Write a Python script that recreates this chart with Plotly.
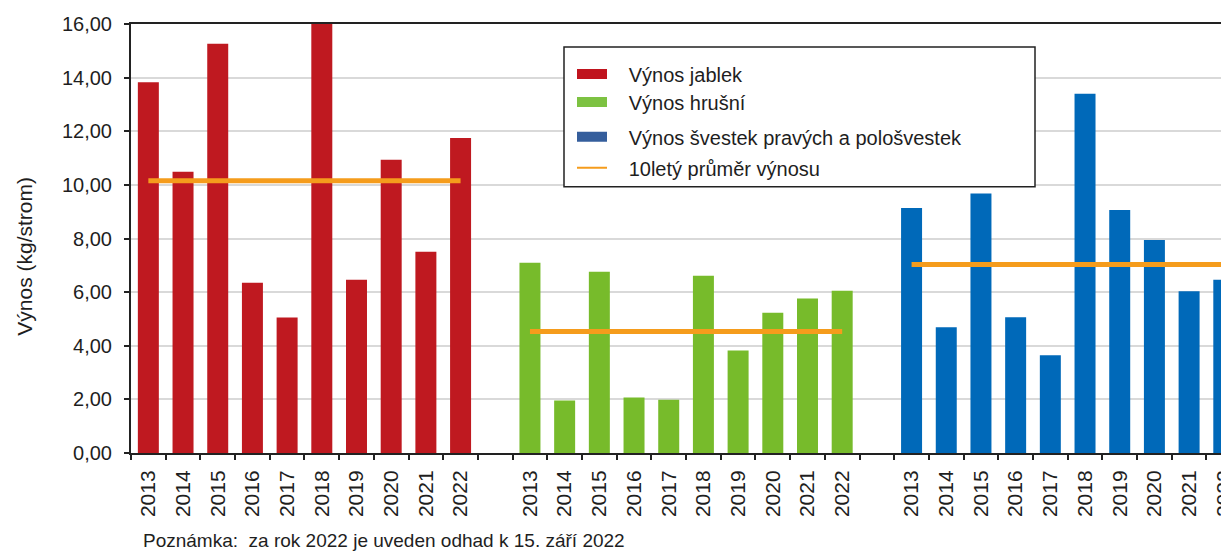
import plotly.graph_objects as go

years = ["2013", "2014", "2015", "2016", "2017", "2018", "2019", "2020", "2021", "2022"]
jablka = [13.83, 10.49, 15.26, 6.35, 5.05, 16.00, 6.46, 10.94, 7.51, 11.75]
hruse = [7.10, 1.96, 6.76, 2.07, 1.99, 6.61, 3.82, 5.23, 5.76, 6.05]
svestky = [9.14, 4.69, 9.68, 5.06, 3.65, 13.40, 9.06, 7.94, 6.03, 6.46]
prumer = [10.15, 4.53, 7.03]

names = ["Výnos jablek", "Výnos hrušní", "Výnos švestek pravých a pološvestek", "10letý průměr výnosu"]
bar_colors = ["#BF1920", "#77BB2B", "#0069B9"]
legend_colors = ["#C0141E", "#7DC242", "#355E9C"]
line_color = "#F59C1C"
note = "Poznámka:  za rok 2022 je uveden odhad k 15. září 2022"

groups = [("j", jablka), ("h", hruse), ("s", svestky)]
cat_ids, cat_text = [], []
for gi, (key, _) in enumerate(groups):
    for y in years:
        cat_ids.append(key + y)
        cat_text.append(y)
    if gi < len(groups) - 1:
        cat_ids.append("gap" + str(gi))
        cat_text.append("")

FONT = "Liberation Sans, Arial, sans-serif"
TXT = "#1e1e1e"

fig = go.Figure()
for gi, (key, vals) in enumerate(groups):
    xs = [key + y for y in years]
    fig.add_trace(go.Bar(x=xs, y=vals, marker=dict(color=bar_colors[gi], line=dict(width=0)),
                         showlegend=False, hoverinfo="x+y"))
for gi, (key, _) in enumerate(groups):
    fig.add_trace(go.Scatter(x=[key + years[0], key + years[-1]], y=[prumer[gi]] * 2,
                             mode="lines", line=dict(color=line_color, width=5),
                             showlegend=False))

# page has an 8px body margin, so the figure is drawn 8px right/down
OFF = 8
W, H = 1229 - OFF, 551 - OFF
L, R, T, B = 131 - OFF, 0, 24 - OFF, 97.5
pw, ph = W - L - R, H - T - B

def px2paper_x(px):  # px = page pixel
    return (px - OFF - L) / pw

def px2paper_y(py):
    return (H - B - (py - OFF)) / ph

# legend entries (wide swatches drawn as thick legend lines)
PAD = "\u00a0\u00a0\u00a0"
leg_y = [74, 102, 137, 168]
for i in range(3):
    fig.add_trace(go.Scatter(x=[None], y=[None], name=PAD + names[i], mode="lines",
                             line=dict(color=legend_colors[i], width=14),
                             legend="legend" if i == 0 else "legend" + str(i + 1)))
fig.add_trace(go.Scatter(x=[None], y=[None], name=PAD + names[3], mode="lines",
                         line=dict(color=line_color, width=2), legend="legend4"))

leg_common = dict(xref="paper", yref="paper", xanchor="left", yanchor="middle",
                  bgcolor="rgba(0,0,0,0)", borderwidth=0,
                  font=dict(family=FONT, size=20, color=TXT))
legends = {}
for i in range(4):
    k = "legend" if i == 0 else "legend" + str(i + 1)
    legends[k] = dict(leg_common, x=px2paper_x(572), y=px2paper_y(leg_y[i]))

fig.update_layout(
    width=W, height=H,
    margin=dict(l=L, r=R, t=T, b=B, pad=0, autoexpand=False),
    paper_bgcolor="white", plot_bgcolor="white",
    bargap=0.395,
    separators=", ",
    font=dict(family=FONT, size=20, color=TXT),
    **legends,
    xaxis=dict(type="category", categoryorder="array", categoryarray=cat_ids,
               tickvals=cat_ids, ticktext=cat_text, tickson="boundaries",
               range=[-0.5, 31.15], tickangle=-90, automargin=False,
               ticks="outside", ticklen=5, tickwidth=1.5, tickcolor="#222",
               showline=True, linecolor="#222", linewidth=2, mirror=True,
               showgrid=False, ticklabelstandoff=7,
               tickfont=dict(family=FONT, size=21, color=TXT)),
    yaxis=dict(range=[0, 16], dtick=2, tick0=0, tickformat=".2f", automargin=False,
               ticks="outside", ticklen=5, tickwidth=1.5, tickcolor="#222",
               showline=True, linecolor="#222", linewidth=2,
               showgrid=True, gridcolor="#D9D9D9", gridwidth=1.5, zeroline=False,
               ticklabelstandoff=8,
               tickfont=dict(family=FONT, size=20, color=TXT)),
    shapes=[dict(type="rect", xref="paper", yref="paper",
                 x0=px2paper_x(564), x1=px2paper_x(1035),
                 y0=px2paper_y(187), y1=px2paper_y(47),
                 line=dict(color="#222", width=1.5), fillcolor="white", layer="above")],
    annotations=[
        dict(text=note, xref="paper", yref="paper",
             x=px2paper_x(141), y=px2paper_y(541), xanchor="left", yanchor="middle",
             showarrow=False, font=dict(family=FONT, size=19, color=TXT)),
        dict(text="Výnos (kg/strom)", xref="paper", yref="paper", textangle=-90,
             x=px2paper_x(25), y=px2paper_y(257), xanchor="center", yanchor="middle",
             showarrow=False, font=dict(family=FONT, size=21, color=TXT)),
    ],
)

fig.write_html("out.html")
